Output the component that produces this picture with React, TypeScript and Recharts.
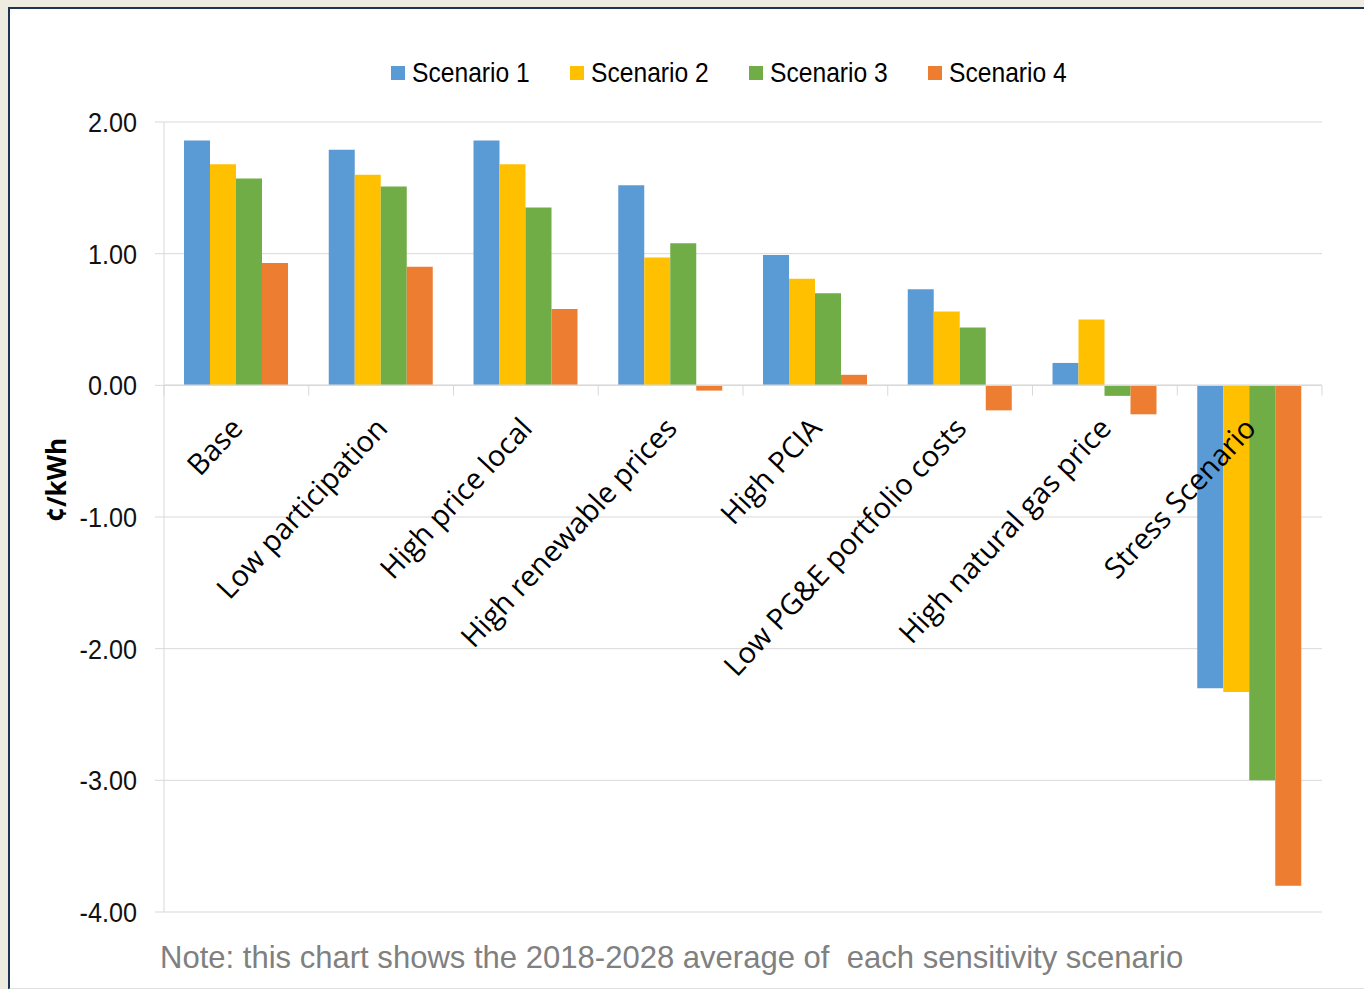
import { BarChart, Bar, XAxis, YAxis, CartesianGrid, ReferenceLine } from 'recharts'

const categories = [
  'Base',
  'Low participation',
  'High price local',
  'High renewable prices',
  'High PCIA',
  'Low PG&E portfolio costs',
  'High natural gas price',
  'Stress Scenario',
]
const scenario1 = [1.86, 1.79, 1.86, 1.52, 0.99, 0.73, 0.17, -2.30]
const scenario2 = [1.68, 1.60, 1.68, 0.97, 0.81, 0.56, 0.50, -2.33]
const scenario3 = [1.57, 1.51, 1.35, 1.08, 0.70, 0.44, -0.08, -3.00]
const scenario4 = [0.93, 0.90, 0.58, -0.04, 0.08, -0.19, -0.22, -3.80]
const yTicks = [2, 1, 0, -1, -2, -3, -4]

const seriesNames = ['Scenario 1', 'Scenario 2', 'Scenario 3', 'Scenario 4']
const colors = ['#5B9BD5', '#FFC000', '#70AD47', '#ED7D31']

const data = categories.map((name, i) => ({
  name,
  s1: scenario1[i],
  s2: scenario2[i],
  s3: scenario3[i],
  s4: scenario4[i],
}))

const W = 1364
const H = 989
const M = { top: 122, right: 42, bottom: 76, left: 0 }
const Y_AXIS_W = 164
const plotW = W - M.left - M.right - Y_AXIS_W
const plotH = H - M.top - M.bottom
const yMax = 2
const yMin = -4
const zeroY = M.top + (yMax / (yMax - yMin)) * plotH
const band = plotW / categories.length

const sans = '"Liberation Sans", Arial, sans-serif'

function CategoryTick(props: any) {
  const { x, index, payload } = props
  const left = x - band / 2
  const ax = x + 8
  const ay = zeroY + 44
  return (
    <g>
      <line x1={left} y1={zeroY} x2={left} y2={zeroY + 10} stroke="#d9d9d9" />
      {index === categories.length - 1 && (
        <line x1={left + band} y1={zeroY} x2={left + band} y2={zeroY + 10} stroke="#d9d9d9" />
      )}
      <text
        x={ax}
        y={ay}
        transform={`rotate(-47, ${ax}, ${ay})`}
        textAnchor="end"
        fontFamily='"Open Sans", sans-serif'
        fontSize={29}
        fill="#000"
      >
        {payload.value}
      </text>
    </g>
  )
}

function ValueTick(props: any) {
  const { x, y, payload } = props
  return (
    <text
      transform={`translate(${x}, ${y}) scale(0.9, 1)`}
      textAnchor="end"
      dy="0.36em"
      fontFamily={sans}
      fontSize={28}
      fill="#111"
    >
      {payload.value.toFixed(2)}
    </text>
  )
}

function UnitLabel(props: any) {
  const { viewBox } = props
  const cx = 56
  const cy = viewBox.y + viewBox.height / 2 - 37
  return (
    <text
      x={cx}
      y={cy}
      transform={`rotate(-90, ${cx}, ${cy})`}
      textAnchor="middle"
      dominantBaseline="central"
      fontFamily='"Open Sans", sans-serif'
      fontWeight={700}
      fontSize={26}
      fill="#000"
    >
      ¢/kWh
    </text>
  )
}

export default function App() {
  return (
    <div style={{ position: 'absolute', left: 0, top: 0, width: W, height: H, background: '#EEEBE0', overflow: 'hidden' }}>
      <div
        style={{
          position: 'absolute',
          left: 8,
          top: 7,
          width: W,
          height: H - 10,
          background: '#fff',
          borderLeft: '2px solid #1F3354',
          borderTop: '2px solid #1F3354',
          borderBottom: '2px solid #e0e0e0',
        }}
      />
      <div style={{ position: 'absolute', left: 0, top: 0 }}>
        <BarChart width={W} height={H} data={data} margin={M} barCategoryGap={20} barGap={0}>
          <CartesianGrid vertical={false} stroke="#d9d9d9" />
          <XAxis
            dataKey="name"
            axisLine={false}
            tickLine={false}
            tick={<CategoryTick />}
            interval={0}
            height={1}
          />
          <YAxis
            width={Y_AXIS_W}
            domain={[yMin, yMax]}
            ticks={yTicks}
            interval={0}
            axisLine={{ stroke: '#d9d9d9' }}
            tickLine={{ stroke: '#d9d9d9' }}
            tickSize={9}
            tickMargin={18}
            tick={<ValueTick />}
            label={<UnitLabel />}
          />
          <ReferenceLine y={0} stroke="#d9d9d9" strokeWidth={1.5} />
          <Bar dataKey="s1" name={seriesNames[0]} fill={colors[0]} isAnimationActive={false} />
          <Bar dataKey="s2" name={seriesNames[1]} fill={colors[1]} isAnimationActive={false} />
          <Bar dataKey="s3" name={seriesNames[2]} fill={colors[2]} isAnimationActive={false} />
          <Bar dataKey="s4" name={seriesNames[3]} fill={colors[3]} isAnimationActive={false} />
        </BarChart>
      </div>
      <div style={{ position: 'absolute', left: 391, top: 56, display: 'flex', fontFamily: sans, fontSize: 28, color: '#000' }}>
        {seriesNames.map((n, i) => (
          <div key={n} style={{ width: 179, height: 34, display: 'flex', alignItems: 'center' }}>
            <span style={{ width: 14, height: 14, background: colors[i], display: 'inline-block', marginRight: 7, flex: 'none' }} />
            <span style={{ display: 'inline-block', transform: 'scaleX(0.88)', transformOrigin: 'left center', whiteSpace: 'nowrap' }}>{n}</span>
          </div>
        ))}
      </div>
      <div
        style={{
          position: 'absolute',
          left: 160,
          top: 939,
          fontFamily: sans,
          fontSize: 32,
          color: '#808080',
          whiteSpace: 'pre',
          transform: 'scaleX(0.97)',
          transformOrigin: 'left top',
        }}
      >
        {'Note: this chart shows the 2018-2028 average of  each sensitivity scenario'}
      </div>
    </div>
  )
}
